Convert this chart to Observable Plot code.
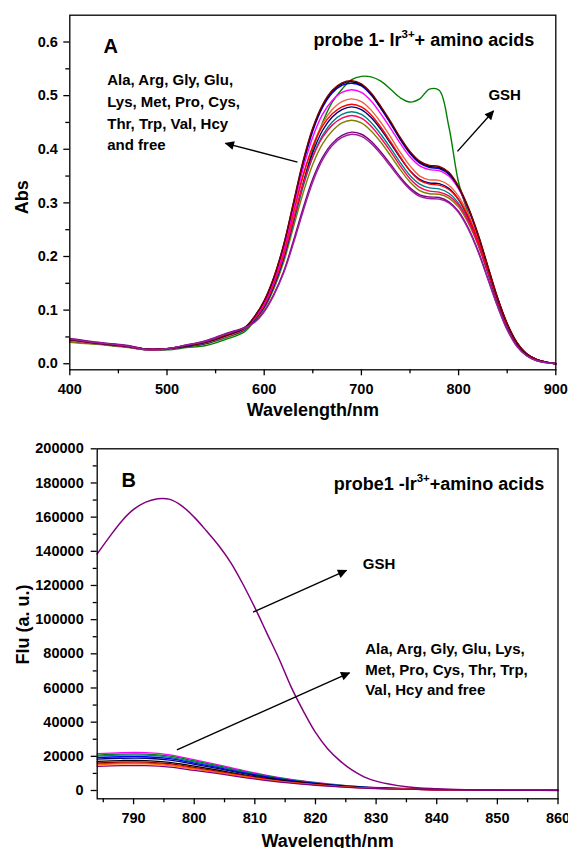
<!DOCTYPE html>
<html><head><meta charset="utf-8">
<script src="https://cdn.jsdelivr.net/npm/d3@7"></script>
<script src="https://cdn.jsdelivr.net/npm/@observablehq/plot@0.6"></script>
<style>
body{margin:0;background:#fff;}
#chart{width:568px;}
#chart svg{display:block;}
</style></head><body><div id="chart"></div>
<script>
// ---------- Panel A: absorption ----------
const absWave = [400,420,440,460,480,500,520,540,560,580,590,600,610,620,630,640,650,660,670,680,690,700,710,720,730,740,750,760,770,780,790,800,810,820,830,840,850,860,870,880,890,900];
const absGSH     = [.041,.038,.035,.031,.026,.026,.030,.034,.045,.060,.080,.104,.142,.194,.262,.335,.400,.450,.488,.512,.530,.536,.535,.527,.512,.496,.488,.494,.512,.510,.442,.338,.280,.230,.172,.113,.066,.034,.015,.006,.002,.000];
const absOlive   = [.040,.037,.034,.030,.026,.027,.031,.037,.048,.062,.080,.103,.140,.189,.254,.318,.372,.410,.434,.449,.454,.449,.434,.413,.388,.362,.339,.323,.317,.316,.309,.292,.262,.221,.169,.116,.069,.036,.017,.007,.003,.000];
const absCyan    = [.043,.039,.035,.031,.026,.027,.032,.038,.049,.063,.082,.106,.144,.195,.262,.330,.386,.426,.451,.465,.470,.465,.450,.428,.402,.375,.351,.335,.328,.326,.318,.299,.267,.224,.171,.117,.070,.037,.017,.007,.003,.000];
const absNavy    = [.043,.039,.035,.031,.026,.027,.032,.038,.050,.064,.082,.106,.145,.197,.266,.336,.394,.435,.460,.474,.479,.474,.459,.437,.411,.384,.360,.344,.337,.336,.327,.306,.272,.227,.172,.117,.070,.037,.017,.007,.003,.000];
const absBlue    = [.044,.040,.036,.032,.027,.028,.033,.039,.051,.066,.086,.114,.156,.214,.292,.371,.434,.478,.505,.519,.523,.518,.501,.476,.448,.418,.392,.374,.366,.364,.353,.328,.289,.239,.180,.122,.074,.039,.018,.008,.003,.000];
const absCoral   = [.043,.039,.035,.031,.026,.027,.033,.039,.050,.065,.084,.110,.150,.204,.276,.348,.406,.448,.474,.489,.494,.489,.473,.450,.423,.394,.369,.350,.343,.342,.333,.312,.278,.232,.176,.120,.072,.038,.018,.008,.003,.000];
const absCrimson = [.045,.040,.036,.032,.027,.028,.034,.041,.052,.066,.084,.109,.149,.201,.268,.334,.386,.422,.445,.458,.463,.458,.443,.421,.396,.369,.345,.329,.322,.320,.313,.296,.266,.224,.172,.118,.071,.038,.018,.008,.003,.000];
const absRed     = [.044,.040,.036,.032,.027,.028,.034,.041,.052,.067,.086,.113,.154,.209,.282,.352,.405,.443,.466,.479,.484,.479,.464,.441,.414,.386,.360,.342,.335,.333,.325,.306,.274,.230,.176,.121,.073,.039,.018,.008,.003,.000];
const absMagenta = [.045,.040,.036,.032,.027,.028,.034,.040,.052,.067,.086,.114,.156,.213,.289,.364,.423,.465,.491,.506,.511,.506,.490,.466,.439,.411,.386,.369,.362,.360,.350,.326,.288,.239,.181,.123,.074,.039,.018,.008,.003,.000];
const absBlack   = [.045,.040,.036,.032,.027,.028,.033,.040,.052,.067,.088,.117,.161,.221,.298,.376,.438,.481,.508,.522,.526,.520,.503,.478,.450,.420,.394,.376,.368,.366,.355,.329,.290,.240,.181,.122,.074,.039,.018,.008,.003,.000];
const absWine    = [.046,.041,.037,.033,.027,.028,.034,.041,.053,.068,.088,.118,.162,.222,.300,.378,.440,.483,.510,.524,.528,.522,.505,.480,.452,.422,.396,.378,.370,.368,.357,.331,.292,.242,.183,.124,.075,.040,.019,.008,.003,.000];
const absPurple  = [.047,.042,.038,.034,.027,.028,.035,.043,.056,.068,.078,.098,.130,.172,.229,.290,.345,.385,.411,.426,.432,.428,.415,.395,.372,.348,.328,.315,.311,.310,.302,.284,.253,.211,.160,.108,.064,.033,.015,.006,.002,.000];
const absViolet  = [.046,.041,.037,.033,.026,.028,.035,.042,.055,.067,.077,.097,.128,.169,.224,.284,.339,.380,.407,.422,.428,.424,.411,.391,.368,.345,.325,.312,.308,.307,.300,.282,.251,.209,.158,.107,.063,.032,.015,.006,.002,.000];
const absSeries = [absGSH, absOlive, absCyan, absNavy, absBlue, absCoral, absCrimson, absRed, absMagenta, absBlack, absWine, absPurple, absViolet];
const absColors = ["#008000","#808000","#008080","#000080","#0000FF","#F0603C","#FF0060","#FF0000","#FF00FF","#000000","#800000","#800080","#9A1FA0"];
const absXTicks = [400,500,600,700,800,900];
const absXMinor = [450,550,650,750,850];
const absYTicks = [0,0.1,0.2,0.3,0.4,0.5,0.6];
const absYMinor = [0.05,0.15,0.25,0.35,0.45,0.55];
const absTitle = "probe 1- Ir^{3+}+ amino acids";
const absTitleX = 650.7, absTitleY = 0.604;
const absNoteText = ["Ala, Arg, Gly, Glu,","Lys, Met, Pro, Cys,","Thr, Trp, Val, Hcy","and free","GSH"];
const absNoteX = [438.5, 438.5, 438.5, 438.5, 830.7];
const absNoteY = [0.528, 0.488, 0.447, 0.408, 0.500];
const absArrowX1 = [634.3, 798.8], absArrowY1 = [0.376, 0.396];
const absArrowX2 = [560.2, 835.9], absArrowY2 = [0.411, 0.4715];

// ---------- Panel B: fluorescence ----------
const fluGshWave = [784,786,788,790,792,794,796,798,800,802,804,806,808,810,812,814,816,818,820,822,824,826,828,830,835,840,845,850,855,860];
const fluGSH = [138500,148300,157500,164500,168800,170800,170400,166500,160000,152000,143500,133500,121000,107000,92000,77000,60500,46500,34000,24500,17500,12000,8000,5500,2200,1000,450,200,100,50];
const fluWave = [784,788,792,796,800,804,808,812,816,820,824,828,832,840,850,860];
const fluMagenta = [21600,22200,22200,20900,18000,15000,11800,8900,6500,4700,3200,2100,1450,600,150,40];
const fluGreen   = [20740,21310,21310,20060,17280,14400,11330,8540,6240,4510,3070,2020,1390,580,140,40];
const fluCyan    = [20090,20650,20650,19440,16740,13950,10970,8280,6050,4370,2980,1950,1350,560,140,40];
const fluBlue    = [19220,19760,19760,18600,16020,13350,10500,7920,5790,4180,2850,1870,1290,530,130,40];
const fluNavy    = [18360,18870,18870,17770,15300,12750,10030,7570,5530,4000,2720,1790,1230,510,130,30];
const fluBlack   = [17060,17540,17540,16510,14220,11850,9320,7030,5140,3710,2530,1660,1150,470,120,30];
const fluWine    = [16200,16650,16650,15680,13500,11250,8850,6680,4880,3530,2400,1580,1090,450,110,30];
const fluRed     = [15550,15980,15980,15050,12960,10800,8500,6410,4680,3380,2300,1510,1040,430,110,30];
const fluOrange  = [15120,15540,15540,14630,12600,10500,8260,6230,4550,3290,2240,1470,1020,420,110,30];
const fluPurple  = [14150,14540,14540,13690,11790,9830,7730,5830,4260,3080,2100,1380,950,390,100,30];
const fluSeries = [fluMagenta, fluGreen, fluCyan, fluBlue, fluNavy, fluBlack, fluWine, fluRed, fluOrange, fluPurple];
const fluColors = ["#FF00FF","#008000","#008080","#0000FF","#000080","#000000","#800000","#FF0000","#FF6A00","#800080"];
const fluGshColor = "#800080";
const fluXTicks = [790,800,810,820,830,840,850,860];
const fluXMinor = [785,795,805,815,825,835,845,855];
const fluYTicks = [0,20000,40000,60000,80000,100000,120000,140000,160000,180000,200000];
const fluYMinor = [10000,30000,50000,70000,90000,110000,130000,150000,170000,190000];
const fluTitle = "probe1 -Ir^{3+}+amino acids";
const fluTitleX = 823.0, fluTitleY = 179400;
const fluNoteText = ["GSH","Ala, Arg, Gly, Glu, Lys,","Met, Pro, Cys, Thr, Trp,","Val, Hcy and free"];
const fluNoteX = [827.8, 828.2, 828.2, 828.2];
const fluNoteY = [132300, 82900, 70600, 58500];
const fluArrowX1 = [809.7, 797.15], fluArrowY1 = [104400, 23800];
const fluArrowX2 = [825.1, 825.6],  fluArrowY2 = [128800, 68900];

const FONT = "'Liberation Sans', Arial, Helvetica, sans-serif";

function toRows(xs, ys){ return xs.map((x,i)=>({x, y: ys[i]})); }
function idx(n){ return Array.from({length:n},(_, i)=>i); }

function fixup(svg){
  const ns = "http://www.w3.org/2000/svg";
  svg.querySelectorAll("marker").forEach(m=>{
    m.setAttribute("overflow","visible");
    const p = m.querySelector("path");
    if (p){ p.setAttribute("d","M-9,-4.8L1,0L-9,4.8Z"); p.setAttribute("fill","#000"); p.setAttribute("stroke","none"); }
  });
  svg.querySelectorAll("text").forEach(t=>{
    const m = t.textContent.match(/^(.*)\^\{(.*)\}(.*)$/);
    if (!m) return;
    t.textContent = "";
    const a = document.createElementNS(ns,"tspan"); a.textContent = m[1];
    const b = document.createElementNS(ns,"tspan"); b.textContent = m[2];
    b.setAttribute("dy","-8"); b.setAttribute("font-size","11.5px");
    const c = document.createElementNS(ns,"tspan"); c.textContent = m[3]; c.setAttribute("dy","8");
    t.append(a,b,c);
  });
  return svg;
}

const axisCommon = {tickSize: 6, strokeWidth: 1.3, fontSize: 14.5, label: null};

const plotA = Plot.plot({
  width: 568, height: 425,
  marginTop: 14.7, marginRight: 12.7, marginBottom: 55.7, marginLeft: 69.3,
  x: {domain: [400, 900]},
  y: {domain: [-0.0113, 0.65]},
  style: {fontFamily: FONT, fontWeight: "bold", background: "#fff", color: "#000"},
  marks: [
    ...absSeries.map((s,i)=>Plot.line(toRows(absWave, s), {x:"x", y:"y", stroke: absColors[i], strokeWidth: 1.4, curve: "catmull-rom"})),
    Plot.frame({stroke: "#000", strokeWidth: 1.3}),
    Plot.axisX({...axisCommon, ticks: absXTicks, tickPadding: 8, tickFormat: d=>String(d)}),
    Plot.axisX({...axisCommon, ticks: absXMinor, tickSize: 4, tickFormat: ()=>""}),
    Plot.axisY({...axisCommon, ticks: absYTicks, tickPadding: 6, tickFormat: d=>d.toFixed(1)}),
    Plot.axisY({...axisCommon, ticks: absYMinor, tickSize: 4, tickFormat: ()=>""}),
    Plot.text(["Wavelength/nm"], {text: d=>d, frameAnchor: "bottom", lineAnchor: "middle", textAnchor: "middle", dy: 40.7, fontSize: 18}),
    Plot.text(["Abs"], {text: d=>d, frameAnchor: "left", lineAnchor: "middle", textAnchor: "middle", dx: -47.6, dy: 4.7, rotate: -90, fontSize: 18}),
    Plot.text(["A"], {text: d=>d, x: [434.7], y: [0.591], textAnchor: "start", fontSize: 20}),
    Plot.text([absTitle], {text: d=>d, x: [absTitleX], y: [absTitleY], textAnchor: "start", fontSize: 18}),
    Plot.text(idx(absNoteText.length), {text: i=>absNoteText[i], x: i=>absNoteX[i], y: i=>absNoteY[i], textAnchor: "start", fontSize: 15}),
    Plot.link(idx(absArrowX1.length), {x1: i=>absArrowX1[i], y1: i=>absArrowY1[i], x2: i=>absArrowX2[i], y2: i=>absArrowY2[i], stroke: "#000", strokeWidth: 1.4, markerEnd: "arrow"})
  ]
});

const plotB = Plot.plot({
  width: 568, height: 423,
  marginTop: 23.3, marginRight: 10.5, marginBottom: 49.7, marginLeft: 96.7,
  x: {domain: [784, 860]},
  y: {domain: [-4860, 200000]},
  style: {fontFamily: FONT, fontWeight: "bold", background: "#fff", color: "#000"},
  marks: [
    ...fluSeries.map((s,i)=>Plot.line(toRows(fluWave, s), {x:"x", y:"y", stroke: fluColors[i], strokeWidth: 1.3, curve: "catmull-rom"})),
    Plot.line(toRows(fluGshWave, fluGSH), {x:"x", y:"y", stroke: fluGshColor, strokeWidth: 1.5, curve: "catmull-rom"}),
    Plot.frame({stroke: "#000", strokeWidth: 1.3}),
    Plot.axisX({...axisCommon, ticks: fluXTicks, tickPadding: 7.5, tickFormat: d=>String(d)}),
    Plot.axisX({...axisCommon, ticks: fluXMinor, tickSize: 4, tickFormat: ()=>""}),
    Plot.axisY({...axisCommon, ticks: fluYTicks, tickPadding: 7.5, tickFormat: d=>String(d)}),
    Plot.axisY({...axisCommon, ticks: fluYMinor, tickSize: 4, tickFormat: ()=>""}),
    Plot.text(["Wavelength/nm"], {text: d=>d, frameAnchor: "bottom", lineAnchor: "middle", textAnchor: "middle", dy: 42.4, fontSize: 18}),
    Plot.text(["Flu (a. u.)"], {text: d=>d, frameAnchor: "left", lineAnchor: "middle", textAnchor: "middle", dx: -74.1, dy: 0.7, rotate: -90, fontSize: 18}),
    Plot.text(["B"], {text: d=>d, x: [788.0], y: [181600], textAnchor: "start", fontSize: 20}),
    Plot.text([fluTitle], {text: d=>d, x: [fluTitleX], y: [fluTitleY], textAnchor: "start", fontSize: 18}),
    Plot.text(idx(fluNoteText.length), {text: i=>fluNoteText[i], x: i=>fluNoteX[i], y: i=>fluNoteY[i], textAnchor: "start", fontSize: 15}),
    Plot.link(idx(fluArrowX1.length), {x1: i=>fluArrowX1[i], y1: i=>fluArrowY1[i], x2: i=>fluArrowX2[i], y2: i=>fluArrowY2[i], stroke: "#000", strokeWidth: 1.4, markerEnd: "arrow"})
  ]
});

document.getElementById("chart").append(fixup(plotA), fixup(plotB));
</script></body></html>
